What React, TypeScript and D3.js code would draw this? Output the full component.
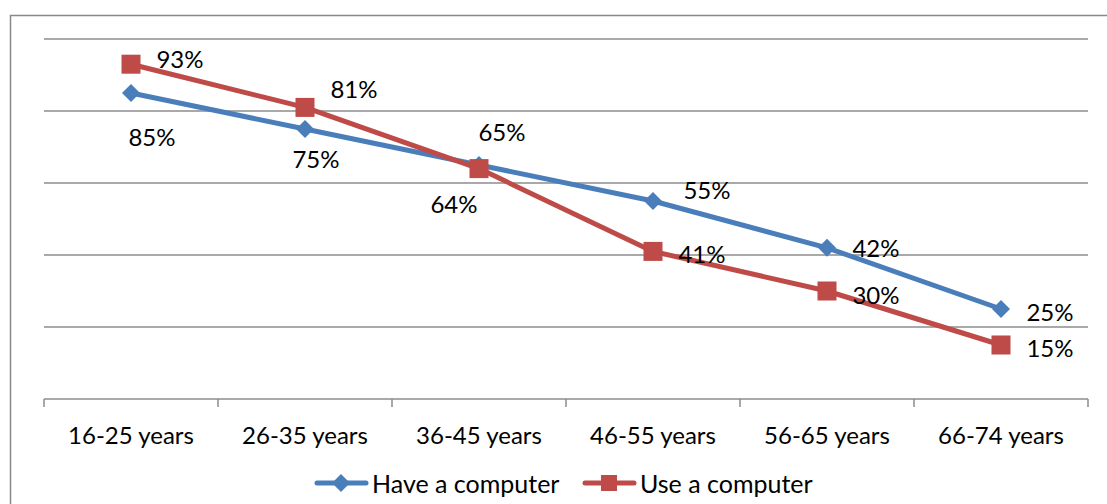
import React from "react";
import * as d3 from "d3";

const categories = ["16-25 years", "26-35 years", "36-45 years", "46-55 years", "56-65 years", "66-74 years"];
const haveComputer = [85, 75, 65, 55, 42, 25];
const useComputer = [93, 81, 64, 41, 30, 15];
const yTicks = [0, 20, 40, 60, 80, 100];

// label offsets (px) relative to each marker
const haveLabelOffsets: [number, number][] = [[21, 43], [11, 29], [23, -34], [54, -12], [49, 0], [49, 2]];
const useLabelOffsets: [number, number][] = [[49, -6], [49, -19], [-25, 35], [49, 2], [49, 3], [49, 2]];

const W = 1107, H = 504;
const BLUE = "#4A7EBB";
const RED = "#BE4B48";
const GRID = "#8C8C8C";
const FONT = "Lato, 'Open Sans', sans-serif";
const FS = 24;

export default function App() {
  const x = d3.scaleBand<string>().domain(categories).range([44, 1088]);
  const y = d3.scaleLinear().domain([0, 100]).range([399, 39]);
  const cx = (c: string) => (x(c) as number) + x.bandwidth() / 2;
  const line = d3.line<number>().x((_, i) => cx(categories[i])).y((d) => y(d));
  const diamond = (px: number, py: number, r = 9) =>
    `M${px},${py - r}L${px + r},${py}L${px},${py + r}L${px - r},${py}Z`;
  const sq = 9.5;
  const tickXs = [...categories.map((c) => x(c) as number), 1088];

  return (
    <svg width={W} height={H} style={{ position: "absolute", left: 0, top: 0 }}>
      <rect x={0} y={0} width={W} height={H} fill="#fff" />
      <rect x={10.5} y={15.5} width={W + 10} height={H + 10} fill="none" stroke="#888" strokeWidth={1.5} />
      {yTicks.filter((t) => t > 0).map((t) => (
        <line key={t} x1={44} x2={1088} y1={y(t)} y2={y(t)} stroke={GRID} strokeWidth={1.5} />
      ))}
      <line x1={44} x2={1088} y1={y(0)} y2={y(0)} stroke={GRID} strokeWidth={1.5} />
      {tickXs.map((tx, i) => (
        <line key={i} x1={tx} x2={tx} y1={y(0)} y2={y(0) + 8} stroke={GRID} strokeWidth={1.5} />
      ))}
      {categories.map((c) => (
        <text key={c} x={cx(c)} y={434} textAnchor="middle" dominantBaseline="central"
          fontFamily={FONT} fontSize={FS} fill="#000">{c}</text>
      ))}
      <path d={line(haveComputer) || ""} fill="none" stroke={BLUE} strokeWidth={5} strokeLinejoin="round" />
      <path d={line(useComputer) || ""} fill="none" stroke={RED} strokeWidth={5} strokeLinejoin="round" />
      {haveComputer.map((v, i) => (
        <path key={"hd" + i} d={diamond(cx(categories[i]), y(v))} fill={BLUE} />
      ))}
      {useComputer.map((v, i) => (
        <rect key={"us" + i} x={cx(categories[i]) - sq} y={y(v) - sq} width={sq * 2} height={sq * 2} fill={RED} />
      ))}
      {haveComputer.map((v, i) => (
        <text key={"hl" + i} x={cx(categories[i]) + haveLabelOffsets[i][0]} y={y(v) + haveLabelOffsets[i][1]}
          textAnchor="middle" dominantBaseline="central" fontFamily={FONT} fontSize={FS} fill="#000">{v}%</text>
      ))}
      {useComputer.map((v, i) => (
        <text key={"ul" + i} x={cx(categories[i]) + useLabelOffsets[i][0]} y={y(v) + useLabelOffsets[i][1]}
          textAnchor="middle" dominantBaseline="central" fontFamily={FONT} fontSize={FS} fill="#000">{v}%</text>
      ))}
      {/* legend */}
      <line x1={317} x2={366} y1={483} y2={483} stroke={BLUE} strokeWidth={5} strokeLinecap="round" />
      <path d={diamond(341, 483)} fill={BLUE} />
      <text x={372} y={483} dominantBaseline="central" fontFamily={FONT} fontSize={25} fill="#000">Have a computer</text>
      <line x1={585} x2={634} y1={483} y2={483} stroke={RED} strokeWidth={5} strokeLinecap="round" />
      <rect x={609 - 8} y={483 - 8} width={16} height={16} fill={RED} />
      <text x={640} y={483} dominantBaseline="central" fontFamily={FONT} fontSize={25} fill="#000">Use a computer</text>
    </svg>
  );
}
